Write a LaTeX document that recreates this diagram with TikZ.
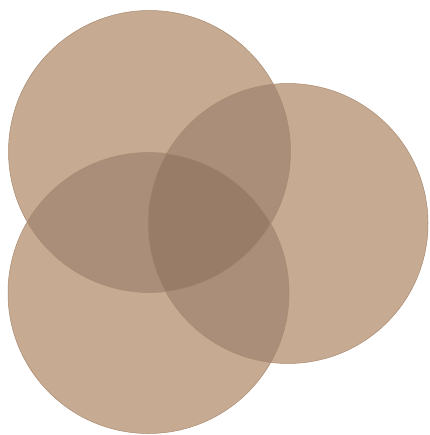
\documentclass[tikz,border=0pt]{standalone}
\definecolor{one}{RGB}{198,170,146}
\definecolor{two}{RGB}{170,142,121}
\definecolor{three}{RGB}{153,124,104}
\definecolor{rim}{RGB}{170,138,112}
\tikzset{rimline/.style={draw=rim, line width=0.5pt}}
\begin{document}
\begin{tikzpicture}[x=1pt,y=-1pt]
\useasboundingbox[fill=white] (0,0) rectangle (429,435);
\def\ca{(149.5,151.5) circle (141)}
\def\cb{(288,223.5) circle (140)}
\def\cc{(148.5,293) circle (140.5)}
% single discs
\fill[one] \ca; \fill[one] \cb; \fill[one] \cc;
% pairwise overlaps
\begin{scope}\clip \ca; \fill[two] \cb; \fill[two] \cc; \end{scope}
\begin{scope}\clip \cb; \fill[two] \cc; \end{scope}
% triple overlap
\begin{scope}\clip \ca; \clip \cb; \fill[three] \cc; \end{scope}
% rims
\draw[rimline] \ca; \draw[rimline] \cb; \draw[rimline] \cc;
\end{tikzpicture}
\end{document}
